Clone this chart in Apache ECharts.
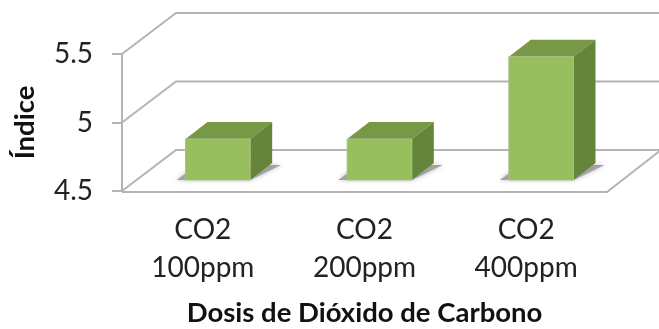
<!DOCTYPE html>
<html><head><meta charset="utf-8">
<style>html,body{margin:0;padding:0;background:#fff}#c{width:659px;height:329px}</style>
<script src="https://cdn.jsdelivr.net/npm/echarts@6/dist/echarts.min.js"></script>
</head><body><div id="c"></div>
<script>
const categories = ['CO2\n100ppm', 'CO2\n200ppm', 'CO2\n400ppm'];
const values = [4.8, 4.8, 5.4];
const yTicks = [4.5, 5, 5.5];

const FONT = 'Lato';
const LINE = '#b4b4b4';
const WALL = [54, -41];      // depth of the chart box
const BAR_PLANE = [15, -11]; // where the bars stand inside the box
const BAR_DEPTH = [22, -17];

function renderFrame(params, api) {
  const cs = params.coordSys;
  const v = api.value(0);
  const y = api.coord([0, v])[1];
  const x0 = cs.x, x1 = cs.x + cs.width;
  const backLeft = [x0 + WALL[0], y + WALL[1]];
  const backRight = [x1 + WALL[0], y + WALL[1]];
  const children = [{ type: 'polyline',
    shape: { points: [[x0, y], backLeft, backRight] },
    style: { stroke: LINE, lineWidth: 2, fill: null } }];
  if (v === yTicks[0]) {
    children.push({ type: 'polyline',
      shape: { points: [[x0, y + 1], [x1, y + 1], backRight] },
      style: { stroke: LINE, lineWidth: 2, fill: null } });
  }
  return { type: 'group', children };
}

function renderBar(params, api) {
  const top = api.coord([api.value(0), api.value(1)]);
  const base = api.coord([api.value(0), yTicks[0]]);
  const w = api.size([1, 0])[0] * 0.4;
  const x = top[0] - w / 2 + BAR_PLANE[0];
  const yt = top[1] + BAR_PLANE[1];
  const yb = base[1] + BAR_PLANE[1];
  const dx = BAR_DEPTH[0], dy = BAR_DEPTH[1];
  return { type: 'group', children: [
    { type: 'polygon', shape: { points: [[x - 9, yb], [x + w, yb], [x + w + dx + 9, yb + dy + 2], [x + 12, yb + dy + 2]] },
      style: { fill: '#a2a2a2', shadowBlur: 5, shadowColor: '#bbbbbb' } },
    { type: 'polygon', shape: { points: [[x, yt], [x + dx, yt + dy], [x + w + dx, yt + dy], [x + w, yt]] },
      style: { fill: '#779845' } },
    { type: 'polygon', shape: { points: [[x + w, yt], [x + w + dx, yt + dy], [x + w + dx, yb + dy], [x + w, yb]] },
      style: { fill: '#65863a' } },
    { type: 'rect', shape: { x, y: yt, width: w, height: yb - yt },
      style: { fill: '#98bf5e', stroke: '#a9bd90', lineWidth: 1 } }
  ] };
}

const chart = echarts.init(document.getElementById('c'), null, { renderer: 'canvas' });
chart.setOption({
  animation: false,
  backgroundColor: '#fff',
  grid: { left: 122, right: 52, top: 54, bottom: 138, outerBoundsMode: 'none' },
  xAxis: {
    type: 'category', data: categories,
    name: 'Dosis de Dióxido de Carbono', nameLocation: 'middle', nameGap: 108,
    nameTextStyle: { fontFamily: FONT, fontSize: 27.5, fontWeight: 'bold', color: '#111' },
    axisLine: { show: false }, axisTick: { show: false },
    axisLabel: { fontFamily: FONT, fontSize: 28, lineHeight: 38, color: '#222', margin: 20 }
  },
  yAxis: {
    type: 'value', min: 4.5, max: 5.5, interval: 0.5,
    name: 'Índice', nameLocation: 'middle', nameGap: 83,
    nameTextStyle: { fontFamily: FONT, fontSize: 27.5, fontWeight: 'bold', color: '#111' },
    axisLine: { show: true, lineStyle: { color: LINE, width: 2 } },
    axisTick: { show: true, length: 10, lineStyle: { color: LINE, width: 2 } },
    axisLabel: { fontFamily: FONT, fontSize: 28, color: '#222', margin: 29, padding: [3, 0, 0, 0],
      formatter: v => String(v) },
    splitLine: { show: false }
  },
  series: [
    { type: 'custom', renderItem: renderFrame, data: yTicks.map(v => [v]), encode: { y: 0 }, z: 1, silent: true },
    { type: 'custom', renderItem: renderBar, data: values.map((v, i) => [i, v]), encode: { x: 0, y: 1 }, z: 2, silent: true }
  ]
});
</script></body></html>
